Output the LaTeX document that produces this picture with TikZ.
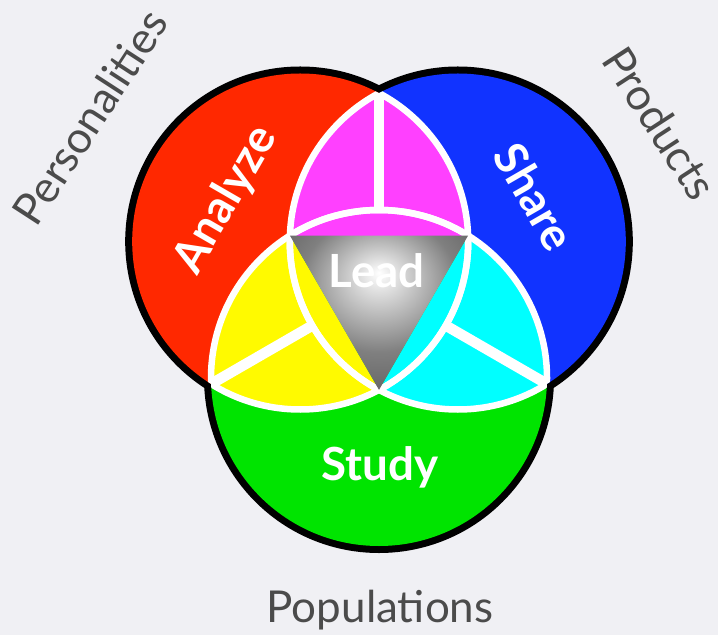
\documentclass[tikz,border=0pt]{standalone}
\usepackage{fontspec}
\setmainfont{Lato}
\usepackage{tikz}
\usetikzlibrary{calc}
\definecolor{bgcol}{RGB}{240,240,244}
\definecolor{redset}{RGB}{255,40,0}
\definecolor{blueset}{RGB}{17,51,255}
\definecolor{greenset}{RGB}{0,228,0}
\definecolor{magentaset}{RGB}{255,64,255}
\definecolor{yellowset}{RGB}{255,250,0}
\definecolor{cyanset}{RGB}{0,255,255}
\definecolor{labelgray}{RGB}{75,75,75}
\pgfdeclareradialshading{leadshade}{\pgfpoint{0bp}{13bp}}{color(0bp)=(white); color(5bp)=(black!12); color(22bp)=(black!50); color(45bp)=(black!70); color(75bp)=(black!82)}

\begin{document}
\begin{tikzpicture}[
    rim/.style = {draw=black, line width=0.28cm},
    seam/.style = {draw=white, line width=0.13cm},
    divider/.style = {draw=white, line width=0.21cm},
    setname/.style = {text=white, font=\fontsize{26}{30}\selectfont\bfseries},
    topic/.style = {text=labelgray, font=\fontsize{25}{30}\selectfont}
  ]
  \def\rad{3.36}
  \useasboundingbox (0,0) rectangle (14.36,12.7);
  \fill[bgcol] (0,0) rectangle (14.36,12.7);

  \coordinate (C) at (7.58,6.96);
  \foreach \n/\a in {R/150, B/30, G/270}
  \coordinate (\n) at ($(C)+(\a:1.82)$);
  \foreach \n/\a in {RB/90, RG/210, BG/330} {
    \coordinate (o\n) at ($(C)+(\a:3.877)$);
    \coordinate (d\n) at ($(C)+(\a:1.54)$);
    \coordinate (i\n) at ($(C)+(\a+180:2.057)$);
  }

  \foreach \n in {R,B,G}
  \draw[rim] (\n) circle (\rad);
  \foreach \n/\c in {R/redset, B/blueset, G/greenset}
  \fill[\c] (\n) circle (\rad);

  \foreach \ang/\ca/\cb/\c in {0/R/B/magentaset, 120/R/G/yellowset, 240/B/G/cyanset} {
    \begin{scope}
      \clip (\ca) circle (\rad);
      \clip (\cb) circle (\rad);
      \clip[shift={(C)}, rotate=\ang] (-5,1.0285) -- (5,1.0285) -- (5,6) -- (-5,6) -- cycle;
      \fill[\c] (C) circle (5);
    \end{scope}
  }

  \foreach \ca/\cb in {R/B, R/G, B/G} {
    \begin{scope}
      \clip (\cb) circle (\rad);
      \draw[seam] (\ca) circle (\rad);
    \end{scope}
    \begin{scope}
      \clip (\ca) circle (\rad);
      \draw[seam] (\cb) circle (\rad);
    \end{scope}
  }
  \foreach \n in {RB, RG, BG}
  \draw[divider] (o\n) -- (d\n);

  \shade[shading=leadshade] (iRB) -- (iRG) -- (iBG) -- cycle;

  \node[setname, rotate=60] (analyze) at (4.52,8.70) {Analyze};
  \node[setname, rotate=-60] (share) at (10.70,8.76) {Share};
  \node[setname, anchor=base] (study) at (7.60,3.10) {Study};
  \node[setname, anchor=base] (lead) at (7.53,6.94) {Lead};
  \node[topic, rotate=57] (personalities) at (1.80,10.36) {Personalities};
  \node[topic, rotate=-57] (products) at (13.20,10.24) {Products};
  \node[topic, anchor=base] (populations) at (7.60,0.26) {Populations};
\end{tikzpicture}
\end{document}
